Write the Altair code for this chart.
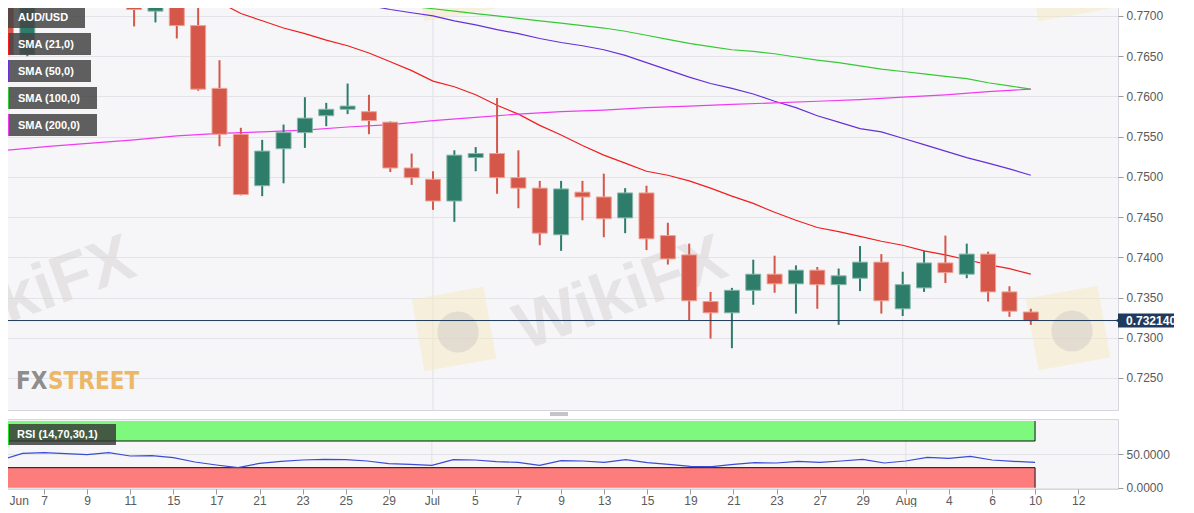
import json

import altair as alt
import pandas as pd

# trading days shown on the chart (index = position on the x axis)
days = [
    "Jun 1", "Jun 2", "Jun 3", "Jun 4", "Jun 7", "Jun 8", "Jun 9", "Jun 10", "Jun 11",
    "Jun 14", "Jun 15", "Jun 16", "Jun 17", "Jun 18", "Jun 21", "Jun 22", "Jun 23",
    "Jun 24", "Jun 25", "Jun 28", "Jun 29", "Jun 30", "Jul 1", "Jul 2", "Jul 5", "Jul 6",
    "Jul 7", "Jul 8", "Jul 9", "Jul 12", "Jul 13", "Jul 14", "Jul 15", "Jul 16", "Jul 19",
    "Jul 20", "Jul 21", "Jul 22", "Jul 23", "Jul 26", "Jul 27", "Jul 28", "Jul 29",
    "Jul 30", "Aug 2", "Aug 3", "Aug 4", "Aug 5", "Aug 6", "Aug 9", "Aug 10", "Aug 11",
    "Aug 12",
]

tick_days = [
    "Jun 3", "Jun 7", "Jun 9", "Jun 11", "Jun 15", "Jun 17", "Jun 21", "Jun 23", "Jun 25",
    "Jun 29", "Jul 1", "Jul 5", "Jul 7", "Jul 9", "Jul 13", "Jul 15", "Jul 19", "Jul 21",
    "Jul 23", "Jul 27", "Jul 29", "Aug 2", "Aug 4", "Aug 6", "Aug 10", "Aug 12",
]
tick_labels = [
    "Jun", "7", "9", "11", "15", "17", "21", "23", "25", "29", "Jul", "5", "7", "9", "13",
    "15", "19", "21", "23", "27", "29", "Aug", "4", "6", "10", "12",
]
month_starts = ["Jul 1", "Aug 2"]

# AUD/USD daily candles, Jun 3 .. Aug 10
candle_start = "Jun 3"
opens = [
    0.7745, 0.7652, 0.7745, 0.7748, 0.7740, 0.7747, 0.7752, 0.7706, 0.7711, 0.7688,
    0.7610, 0.7553, 0.7489, 0.7535, 0.7555, 0.7576, 0.7584, 0.7581, 0.7568, 0.7511,
    0.7497, 0.7470, 0.7524, 0.7529, 0.7499, 0.7486, 0.7428, 0.7481, 0.7475, 0.7449,
    0.7480, 0.7427, 0.7403, 0.7345, 0.7331, 0.7359, 0.7379, 0.7367, 0.7384, 0.7366,
    0.7374, 0.7394, 0.7336, 0.7362, 0.7393, 0.7379, 0.7404, 0.7357, 0.7332,
]
highs = [
    0.7775, 0.7755, 0.7766, 0.7757, 0.7761, 0.7772, 0.7765, 0.7722, 0.7717, 0.7717,
    0.7645, 0.7561, 0.7546, 0.7565, 0.7599, 0.7592, 0.7616, 0.7602, 0.7569, 0.7529,
    0.7507, 0.7533, 0.7537, 0.7598, 0.7533, 0.7495, 0.7495, 0.7495, 0.7504, 0.7486,
    0.7489, 0.7443, 0.7417, 0.7357, 0.7362, 0.7397, 0.7402, 0.7390, 0.7388, 0.7386,
    0.7414, 0.7404, 0.7382, 0.7408, 0.7427, 0.7417, 0.7407, 0.7364, 0.7336,
]
lows = [
    0.7644, 0.7650, 0.7729, 0.7720, 0.7731, 0.7717, 0.7687, 0.7692, 0.7672, 0.7607,
    0.7538, 0.7477, 0.7476, 0.7492, 0.7536, 0.7563, 0.7578, 0.7553, 0.7506, 0.7490,
    0.7459, 0.7444, 0.7507, 0.7479, 0.7461, 0.7415, 0.7408, 0.7446, 0.7425, 0.7430,
    0.7409, 0.7391, 0.7322, 0.7299, 0.7287, 0.7341, 0.7356, 0.7330, 0.7336, 0.7316,
    0.7358, 0.7330, 0.7327, 0.7357, 0.7368, 0.7374, 0.7345, 0.7326, 0.7316,
]
closes = [
    0.7652, 0.7745, 0.7748, 0.7740, 0.7747, 0.7752, 0.7708, 0.7711, 0.7688, 0.7609,
    0.7553, 0.7478, 0.7532, 0.7555, 0.7573, 0.7584, 0.7588, 0.7570, 0.7511, 0.7499,
    0.7470, 0.7527, 0.7529, 0.7499, 0.7486, 0.7430, 0.7485, 0.7475, 0.7448, 0.7480,
    0.7423, 0.7398, 0.7346, 0.7331, 0.7359, 0.7379, 0.7367, 0.7384, 0.7366, 0.7377,
    0.7394, 0.7346, 0.7366, 0.7393, 0.7381, 0.7404, 0.7357, 0.7333, 0.73214,
]

# moving averages as drawn on the chart
sma21_start = "Jun 16"
sma21 = [
    0.7731, 0.7717, 0.7703, 0.7694, 0.7685, 0.7678, 0.7670, 0.7663, 0.7654, 0.7643,
    0.7632, 0.7619, 0.7612, 0.7602, 0.7589, 0.7578, 0.7564, 0.7552, 0.7539, 0.7527,
    0.7517, 0.7507, 0.7502, 0.7495, 0.7486, 0.7476, 0.7467, 0.7456, 0.7446, 0.7437,
    0.7432, 0.7426, 0.7420, 0.7415, 0.7408, 0.7403, 0.7397, 0.7391, 0.7386, 0.7379,
]
sma50_start = "Jun 24"
sma50 = [
    0.7724, 0.7718, 0.7713, 0.7708, 0.7704, 0.7700, 0.7694, 0.7689, 0.7683, 0.7678,
    0.7672, 0.7667, 0.7663, 0.7658, 0.7651, 0.7642, 0.7633, 0.7624, 0.7616, 0.7610,
    0.7603, 0.7594, 0.7586, 0.7576, 0.7568, 0.7560, 0.7556, 0.7548, 0.7540, 0.7532,
    0.7524, 0.7517, 0.7510, 0.7502,
]
sma100_start = "Jun 25"
sma100 = [
    0.7722, 0.7719, 0.7716, 0.7712, 0.7709, 0.7706, 0.7703, 0.7700, 0.7697, 0.7694,
    0.7691, 0.7688, 0.7685, 0.7681, 0.7676, 0.7671, 0.7666, 0.7662, 0.7658, 0.7656,
    0.7653, 0.7649, 0.7645, 0.7642, 0.7638, 0.7634, 0.7631, 0.7628, 0.7625, 0.7622,
    0.7617, 0.7613, 0.7609,
]
sma200_days = [
    "Jun 1", "Jun 3", "Jun 7", "Jun 9", "Jun 11", "Jun 15", "Jun 17", "Jun 21", "Jun 23",
    "Jun 25", "Jun 29", "Jul 1", "Jul 5", "Jul 7", "Jul 9", "Jul 13", "Jul 15", "Jul 19",
    "Jul 21", "Jul 23", "Jul 27", "Jul 29", "Aug 2", "Aug 4", "Aug 6", "Aug 10",
]
sma200 = [
    0.7530, 0.7533, 0.7538, 0.7542, 0.7546, 0.7551, 0.7554, 0.7556, 0.7558, 0.7562,
    0.7565, 0.7570, 0.7574, 0.7578, 0.7581, 0.7583, 0.7586, 0.7588, 0.7590, 0.7592,
    0.7594, 0.7596, 0.7599, 0.7602, 0.7606, 0.7609,
]

# RSI (14) from Jun 3
rsi = [
    41.5, 51.5, 52.5, 51, 49.5, 52.5, 47.5, 48, 45, 38.5, 34, 30, 36.5, 39.5, 41.5, 42.5,
    42, 40, 36, 34.8, 33.5, 42, 41.5, 39, 38, 33.5, 40.5, 40, 38, 42, 37.5, 35, 32, 31.5,
    35, 37.5, 37, 39.5, 38, 40, 42.5, 37, 40, 45.5, 44, 47, 41.5, 39.5, 38,
]
rsi_upper, rsi_lower = 70, 30

price_ticks = [0.725, 0.73, 0.735, 0.74, 0.745, 0.75, 0.755, 0.76, 0.765, 0.77]
rsi_ticks = [0, 50]

UP, DOWN = "#2e7d6b", "#d4574a"
UP_EDGE, DOWN_EDGE = "#86b8aa", "#eea296"
SMA_NAMES = ["SMA (21,0)", "SMA (50,0)", "SMA (100,0)", "SMA (200,0)"]
SMA_COLORS = ["#f01e1e", "#6630d8", "#35c935", "#f03cf0"]
FONT = "Liberation Sans"
NAVY = "#1f3a5c"

# ---- tables -------------------------------------------------------------
c0 = days.index(candle_start)
candles = pd.DataFrame({
    "i": list(range(c0, c0 + len(opens))),
    "open": opens, "high": highs, "low": lows, "close": closes,
})
candles["dir"] = ["up" if c >= o else "down" for o, c in zip(opens, closes)]
last = candles.tail(1)

sma_tables = []
for start, vals in [(sma21_start, sma21), (sma50_start, sma50), (sma100_start, sma100)]:
    s = days.index(start)
    sma_tables.append(pd.DataFrame({"i": range(s, s + len(vals)), "value": vals}))
sma_tables.append(pd.DataFrame({"i": [days.index(d) for d in sma200_days], "value": sma200}))

rsi_df = pd.DataFrame({"i": range(c0, c0 + len(rsi)), "rsi": rsi})
first_i, last_i = c0, c0 + len(rsi) - 1
bands = pd.DataFrame({
    "x0": [first_i, first_i], "x1": [last_i, last_i],
    "lo": [rsi_upper, 0], "hi": [100, rsi_lower], "kind": ["ob", "os"],
})
band_lines = pd.DataFrame({"x0": [first_i, first_i], "x1": [last_i, last_i],
                           "lvl": [rsi_upper, rsi_lower]})
month_df = pd.DataFrame({"i": [days.index(d) for d in month_starts]})

# ---- scales / axes ------------------------------------------------------
x_scale = alt.Scale(domain=[2, 53.85], nice=False, zero=False)
y_scale = alt.Scale(domain=[0.72102, 0.77186], nice=False, zero=False)
y_axis = alt.Axis(
    orient="right", values=price_ticks, format=".4f", title=None, grid=True,
    gridColor="#e3e3e8", tickColor="#9a9a9a", tickSize=5, labelColor="#5a5a5a",
    labelFontSize=12, labelFont=FONT, domain=False, labelPadding=3,
)
x_none = alt.X("i:Q", scale=x_scale, axis=None)

label_lookup = [""] * len(days)
for d, lab in zip(tick_days, tick_labels):
    label_lookup[days.index(d)] = lab
x_axis = alt.Axis(
    values=[days.index(d) for d in tick_days],
    labelExpr=json.dumps(label_lookup) + "[datum.value]",
    title=None, grid=False, domain=False, tickColor="#9a9a9a", tickSize=5,
    labelColor="#5a5a5a", labelFontSize=12, labelFont=FONT, labelPadding=1,
    labelFlush=2, labelFlushOffset=-8, labelOverlap=False,
)

# ---- price panel --------------------------------------------------------
months = alt.Chart(month_df).mark_rule(color="#e1e1e7", strokeWidth=1).encode(x=x_none)

deco = []
for cx, cy in [(453, 328), (1067, 327), (453, -22), (1067, -22)]:
    deco.append(
        alt.Chart(pd.DataFrame({"k": [0]})).mark_square(
            size=5300, color="#f4e9c4", opacity=0.55, angle=350, clip=True
        ).encode(x=alt.value(cx), y=alt.value(cy))
    )
    deco.append(
        alt.Chart(pd.DataFrame({"k": [0]})).mark_circle(
            size=1700, color="#cfc6c4", opacity=0.45, clip=True
        ).encode(x=alt.value(cx + 4), y=alt.value(cy + 3))
    )
for cx, cy in [(620, 293), (28, 293)]:
    deco.append(
        alt.Chart(pd.DataFrame({"t": ["WikiFX"]})).mark_text(
            fontSize=66, fontWeight="bold", font=FONT, color="#d9d5d5", opacity=0.55,
            angle=340, clip=True,
        ).encode(x=alt.value(cx), y=alt.value(cy), text="t:N")
    )
logo_font = "Liberation Sans Narrow, DejaVu Sans Condensed, Liberation Sans"
deco.append(
    alt.Chart(pd.DataFrame({"t": ["FX"]})).mark_text(
        fontSize=24, fontWeight="bold", color="#8d8d8d", align="left", baseline="alphabetic",
        font=logo_font,
    ).encode(x=alt.value(15), y=alt.value(388), text="t:N")
)
deco.append(
    alt.Chart(pd.DataFrame({"t": ["STREET"]})).mark_text(
        fontSize=24, fontWeight="bold", color="#ecb868", align="left", baseline="alphabetic",
        font=logo_font,
    ).encode(x=alt.value(47), y=alt.value(388), text="t:N")
)

sma_lines = [
    alt.Chart(tbl).mark_line(strokeWidth=1.2, clip=True, color=col).encode(
        x=x_none, y=alt.Y("value:Q", scale=y_scale, axis=y_axis)
    )
    for tbl, col in zip(sma_tables, SMA_COLORS)
]

candle_layers = []
for d, fill, edge in [("up", UP, UP_EDGE), ("down", DOWN, DOWN_EDGE)]:
    src = alt.Chart(candles).transform_filter(alt.datum.dir == d)
    candle_layers.append(
        src.mark_rule(strokeWidth=2, clip=True, color=fill).encode(
            x=x_none, y=alt.Y("low:Q", scale=y_scale, axis=y_axis), y2="high:Q"
        )
    )
    candle_layers.append(
        src.mark_bar(size=15, strokeWidth=1, clip=True, color=fill, stroke=edge).encode(
            x=x_none, y=alt.Y("open:Q", scale=y_scale, axis=y_axis), y2="close:Q"
        )
    )

price_line = alt.Chart(last).mark_rule(color=NAVY, strokeWidth=1).encode(
    y=alt.Y("close:Q", scale=y_scale, axis=y_axis)
)
price_box = alt.Chart(last).mark_tick(
    orient="horizontal", size=56, thickness=14, color=NAVY, opacity=1
).encode(x=alt.value(1145), y=alt.Y("close:Q", scale=y_scale, axis=y_axis))
price_tip = alt.Chart(last).mark_point(
    shape="triangle-left", size=40, filled=True, color=NAVY, opacity=1
).encode(x=alt.value(1117), y=alt.Y("close:Q", scale=y_scale, axis=y_axis))
price_text = alt.Chart(last).mark_text(
    align="left", baseline="middle", color="white", fontWeight="bold", fontSize=12, font=FONT
).encode(
    x=alt.value(1125),
    y=alt.Y("close:Q", scale=y_scale, axis=y_axis),
    text=alt.Text("close:Q", format=".6f"),
)

legend_layers = []
legend_items = ["AUD/USD"] + SMA_NAMES
legend_widths = [79, 85, 85, 91, 91]
legend_bars = [None] + SMA_COLORS
for k, (lab, w, bar) in enumerate(zip(legend_items, legend_widths, legend_bars)):
    top = 5 + 27 * k
    src = alt.Chart(pd.DataFrame({"t": [lab]}))
    legend_layers.append(
        src.mark_rect(color="#444444", opacity=0.85).encode(
            x=alt.value(5), x2=alt.value(5 + w), y=alt.value(top), y2=alt.value(top + 22)
        )
    )
    if bar:
        legend_layers.append(
            src.mark_rect(color=bar).encode(
                x=alt.value(5), x2=alt.value(8), y=alt.value(top), y2=alt.value(top + 22)
            )
        )
    legend_layers.append(
        src.mark_text(
            align="left", baseline="middle", color="white", fontWeight="bold",
            fontSize=11, font=FONT,
        ).encode(x=alt.value(17), y=alt.value(top + 11.5), text="t:N")
    )

grip = [
    alt.Chart(pd.DataFrame({"k": [0]})).mark_rule(color="#8a8a8a", strokeWidth=1).encode(
        x=alt.value(549), x2=alt.value(567), y=alt.value(yy)
    )
    for yy in (412, 414)
]

main = alt.layer(
    months, *deco, *sma_lines, *candle_layers, price_line, price_box, price_tip, price_text,
    *legend_layers, *grip,
).properties(width=1117, height=409)

# ---- RSI panel ----------------------------------------------------------
r_scale = alt.Scale(domain=[-2, 103], nice=False, zero=False)
r_axis = alt.Axis(
    orient="right", values=rsi_ticks, format=".4f", title=None, grid=True,
    gridColor="#e3e3e8", tickColor="#9a9a9a", tickSize=5, labelColor="#5a5a5a",
    labelFontSize=12, labelFont=FONT, domain=False, labelPadding=3,
)
x_bottom = alt.X("i:Q", scale=x_scale, axis=x_axis)

r_months = alt.Chart(month_df).mark_rule(color="#e1e1e7", strokeWidth=1).encode(x=x_bottom)
band_layers = []
for kind, col in [("ob", "#7ef97e"), ("os", "#fd7c7c")]:
    band_layers.append(
        alt.Chart(bands).transform_filter(alt.datum.kind == kind).mark_rect(color=col).encode(
            x=alt.X("x0:Q", scale=x_scale, axis=x_axis),
            x2="x1:Q",
            y=alt.Y("lo:Q", scale=r_scale, axis=r_axis),
            y2="hi:Q",
        )
    )
band_hlines = alt.Chart(band_lines).mark_rule(color="#111111", strokeWidth=1).encode(
    x=alt.X("x0:Q", scale=x_scale, axis=x_axis),
    x2="x1:Q",
    y=alt.Y("lvl:Q", scale=r_scale, axis=r_axis),
)
band_vlines = alt.Chart(bands).mark_rule(color="#111111", strokeWidth=1).encode(
    x=alt.X("x1:Q", scale=x_scale, axis=x_axis),
    y=alt.Y("lo:Q", scale=r_scale, axis=r_axis),
    y2="hi:Q",
)
rsi_line = alt.Chart(rsi_df).mark_line(color="#3a4bd6", strokeWidth=1.2, clip=True).encode(
    x=x_bottom, y=alt.Y("rsi:Q", scale=r_scale, axis=r_axis)
)
rsi_src = alt.Chart(pd.DataFrame({"t": ["RSI (14,70,30,1)"]}))
rsi_box = rsi_src.mark_rect(color="#333333", opacity=0.8).encode(
    x=alt.value(5), x2=alt.value(115), y=alt.value(5), y2=alt.value(26)
)
rsi_bar = rsi_src.mark_rect(color="#22dd22").encode(
    x=alt.value(5), x2=alt.value(8), y=alt.value(5), y2=alt.value(26)
)
rsi_text = rsi_src.mark_text(
    align="left", baseline="middle", color="white", fontWeight="bold", fontSize=11, font=FONT
).encode(x=alt.value(16), y=alt.value(16), text="t:N")

rsi_panel = alt.layer(
    r_months, *band_layers, band_hlines, band_vlines, rsi_line, rsi_box, rsi_bar, rsi_text
).properties(width=1117, height=70)

chart = (
    alt.vconcat(main, rsi_panel, spacing=9, bounds="flush")
    .properties(padding={"left": -8, "top": -8, "right": 0, "bottom": 0}, background="white")
    .configure(font=FONT)
    .configure_view(fill="#f6f6f8", stroke="#d6d6de")
)

chart.save("out.html", embed_options={"renderer": "svg", "actions": False})
